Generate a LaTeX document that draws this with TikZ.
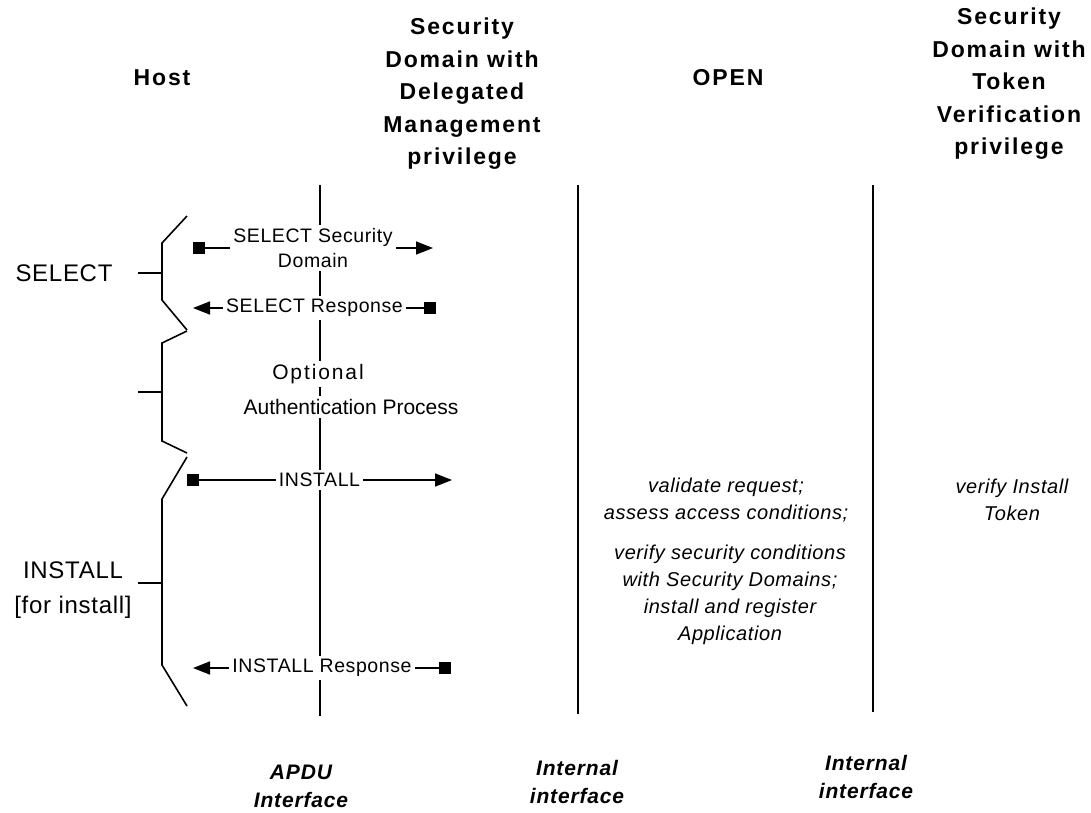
\documentclass[tikz,border=0pt]{standalone}
\usepackage{fontspec}
\setmainfont{Liberation Sans}
\newfontfamily\hdrfont[LetterSpace=8]{Liberation Sans}
\newfontfamily\sidefont[LetterSpace=3]{Liberation Sans}
\newfontfamily\msgfont[LetterSpace=3]{Liberation Sans}
\newfontfamily\optfont[LetterSpace=9]{Liberation Sans}
\newfontfamily\notefont[LetterSpace=3]{Liberation Sans}
\newfontfamily\ifcfont[LetterSpace=4]{Liberation Sans}
\usetikzlibrary{calc,arrows.meta}

\tikzset{
  hdr/.style={align=center, inner sep=0pt, font={\fontsize{23}{32.5}\hdrfont\bfseries}},
  side/.style={align=center, inner sep=0pt, font={\fontsize{24}{35}\sidefont}},
  lbl/.style={align=center, fill=white, inner sep=3pt, font={\fontsize{19.5}{25}\msgfont}},
  optl/.style={fill=white, inner sep=3pt, font={\fontsize{21}{32}\selectfont}},
  note/.style={align=center, inner sep=0pt, font={\fontsize{20}{27}\notefont\itshape}},
  ifc/.style={align=center, inner sep=0pt, font={\fontsize{21}{28}\ifcfont\bfseries\itshape}},
  life/.style={line width=1.6pt},
  brk/.style={line width=1.6pt, line join=miter},
  msg/.style={line width=1.6pt, {Square[length=12pt,width=12pt]}-{Triangle[length=17pt,width=13pt]}},
}

\begin{document}
\begin{tikzpicture}[x=1pt, y=-1pt]
  \useasboundingbox (0,0) rectangle (1091,812);

  \node[hdr] (host) at (162,78) {Host};
  \node[hdr] (sddm) at (462,94) {Security\\Domain with\\Delegated\\Management\\privilege};
  \node[hdr] (open) at (728,78) {OPEN};
  \node[hdr] (sdtv) at (1009,84) {Security\\Domain with\\Token\\Verification\\privilege};

  \coordinate (l1t) at (320,185);
  \coordinate (l1b) at (320,716);
  \coordinate (l2t) at (578,185);
  \coordinate (l2b) at (578,714);
  \coordinate (l3t) at (873,185);
  \coordinate (l3b) at (873,712);
  \draw[life] (l1t) -- (l1b);
  \draw[life] (l2t) -- (l2b);
  \draw[life] (l3t) -- (l3b);

  \draw[brk] (187,216) -- (162,243) -- (162,300) -- (187,330);
  \draw[brk] (138,273) -- (162,273);
  \draw[brk] (187,331) -- (162,343) -- (162,441) -- (187,453);
  \draw[brk] (138,392) -- (162,392);
  \draw[brk] (187,457) -- (162,499) -- (162,665) -- (187,706);
  \draw[brk] (138,583) -- (162,583);

  \node[side] (select) at (64,273) {SELECT};
  \node[side] (install) at (73,590) {INSTALL\\{[for install]}};

  \coordinate (sel-a) at (193,248);
  \coordinate (sel-b) at (433,248);
  \draw[msg] (sel-a) -- node[lbl] (sel) {SELECT Security\\Domain} (sel-b);

  \coordinate (selr-a) at (436,308);
  \coordinate (selr-b) at (193,308);
  \draw[msg] (selr-a) -- node[lbl] (selr) {SELECT Response} (selr-b);

  \node[optl, font={\fontsize{21}{32}\optfont}] (opt1) at (318,374) {Optional};
  \node[optl] (opt2) at (351,407) {Authentication Process};

  \coordinate (ins-a) at (187,480);
  \coordinate (ins-b) at (452,480);
  \draw[msg] (ins-a) -- node[lbl] (ins) {INSTALL} (ins-b);

  \coordinate (insr-a) at (451,668);
  \coordinate (insr-b) at (193,668);
  \draw[msg] (insr-a) -- node[lbl] (insr) {INSTALL Response} (insr-b);

  \node[note] (chk1) at (726,500) {validate request;\\assess access conditions;};
  \node[note] (chk2) at (730,595) {verify security conditions\\with Security Domains;\\install and register\\Application};
  \node[note] (tok) at (1012,500) {verify Install\\Token};

  \node[ifc] (apdu) at (301,786) {APDU\\Interface};
  \node[ifc] (int1) at (577,782) {Internal\\interface};
  \node[ifc] (int2) at (866,777) {Internal\\interface};
\end{tikzpicture}
\end{document}
